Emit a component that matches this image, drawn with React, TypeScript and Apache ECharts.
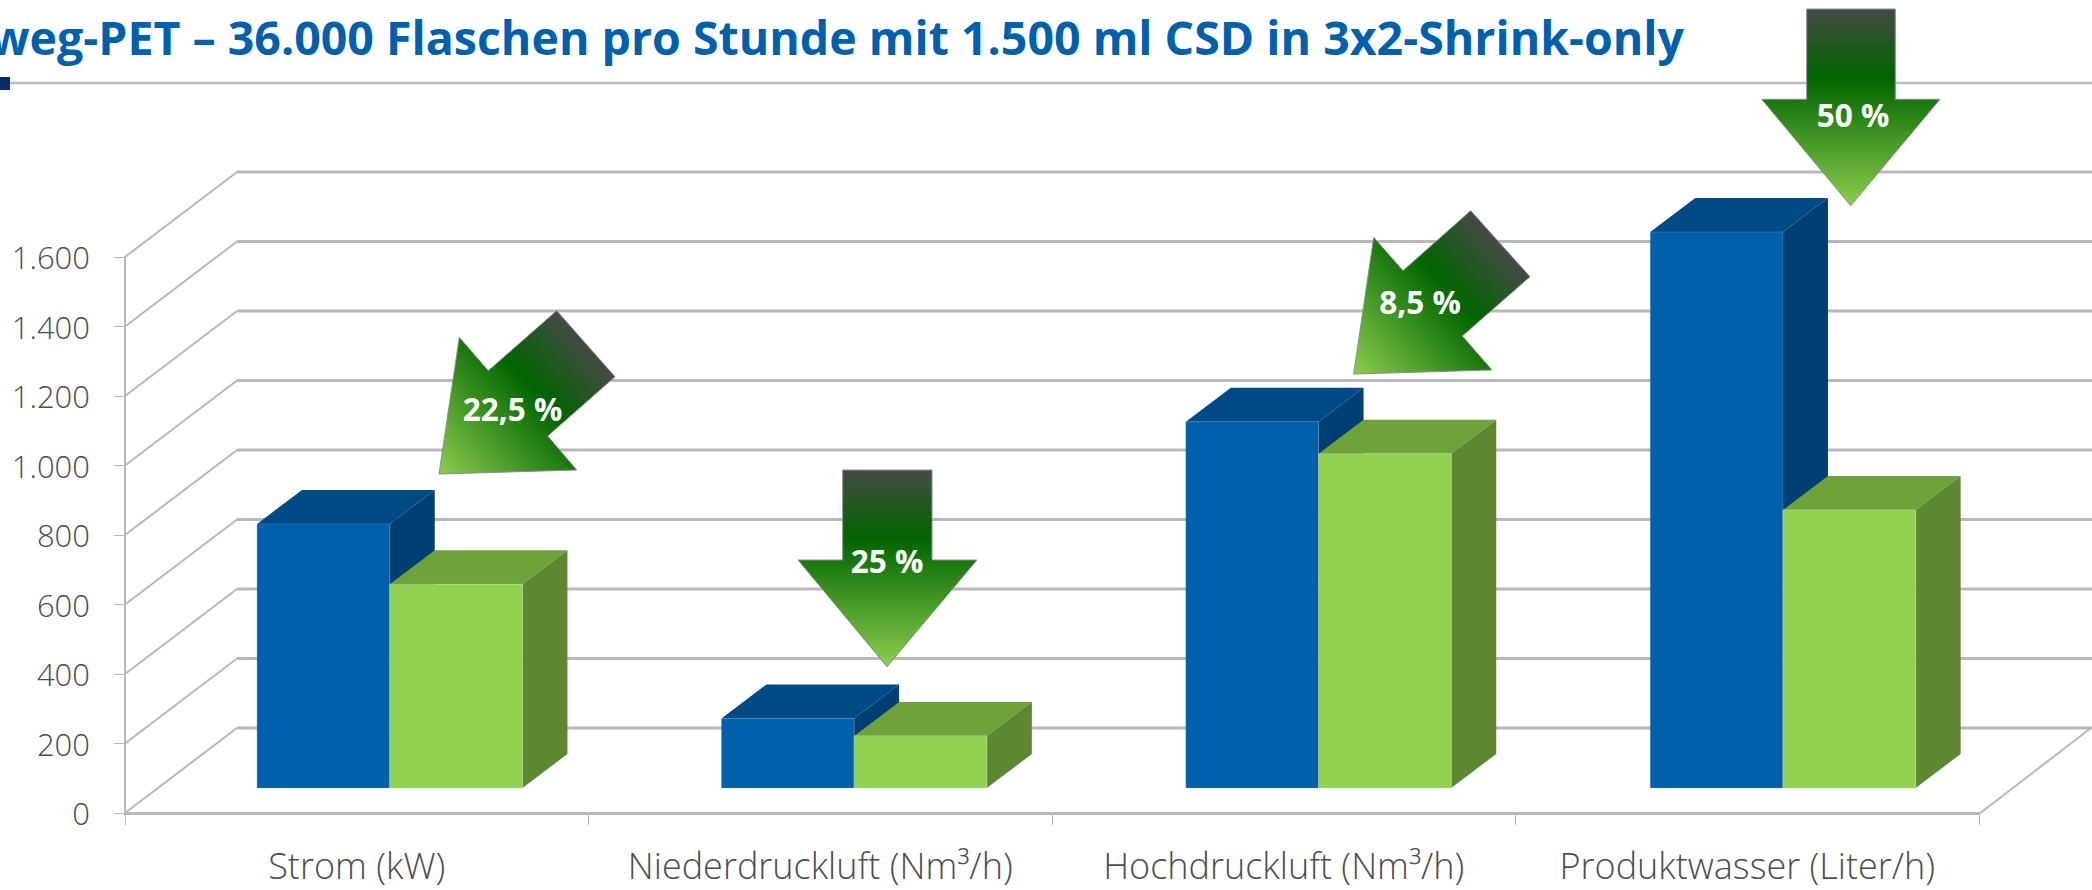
import React, { useEffect, useRef } from "react";
import * as echarts from "echarts";

const categories = ["Strom (kW)", "Niederdruckluft (Nm³/h)", "Hochdruckluft (Nm³/h)", "Produktwasser (Liter/h)"];
const blueValues = [760, 200, 1054, 1600];
const greenValues = [586, 150, 962, 800];
const yTicks = [0, 200, 400, 600, 800, 1000, 1200, 1400, 1600];
const titleText = "Einweg-PET – 36.000 Flaschen pro Stunde mit 1.500 ml CSD in 3x2-Shrink-only";
const savingLabels = ["22,5 %", "25 %", "8,5 %", "50 %"];

const W = 2092;
const H = 890;
const GRID = { left: 125, right: 113, top: 257, bottom: 77 };
const WALL_DX = 112;
const WALL_DY = 85;
const BAR_DX = 33; // front face offset from the axis plane
const BAR_DY = 25;
const BAR_STEP = 0.9; // the 3D projection spreads groups slightly wider than the axis bands
const DEPTH_DX = 45;
const DEPTH_DY = 34;
const BAR_RATIO = 132.7 / 463.5;

const FONT = "'Open Sans', sans-serif";
const AXIS = "#b8b8b8";

const blueFaces = { front: "#0060ac", top: "#004a87", side: "#003f73", edge: "rgba(120,150,180,0.35)" };
const greenFaces = { front: "#90d150", top: "#6fa23b", side: "#5d8733", edge: "rgba(190,215,170,0.6)" };

function barItem(faces: any, side: number) {
  return (params: any, api: any) => {
    const i = api.value(0);
    const v = api.value(1);
    const base = api.coord([i, 0]);
    const top = api.coord([i, v]);
    const bw = api.size([1, 0])[0] * BAR_RATIO;
    const x0 = base[0] + BAR_DX + i * BAR_STEP + (side === 0 ? -bw : 0);
    const x1 = x0 + bw;
    const yb = base[1] - BAR_DY;
    const yt = top[1] - BAR_DY;
    return {
      type: "group",
      children: [
        {
          type: "polygon",
          shape: { points: [[x0, yt], [x1, yt], [x1 + DEPTH_DX, yt - DEPTH_DY], [x0 + DEPTH_DX, yt - DEPTH_DY]] },
          style: { fill: faces.top },
        },
        {
          type: "polygon",
          shape: { points: [[x1, yt], [x1 + DEPTH_DX, yt - DEPTH_DY], [x1 + DEPTH_DX, yb - DEPTH_DY], [x1, yb]] },
          style: { fill: faces.side },
        },
        {
          type: "rect",
          shape: { x: x0, y: yt, width: bw, height: yb - yt },
          style: { fill: faces.front, stroke: faces.edge, lineWidth: 1 },
        },
      ],
    };
  };
}

function wallItem(params: any, api: any) {
  const cs = params.coordSys;
  const y = api.coord([0, api.value(1)])[1];
  const xl = cs.x;
  const xr = cs.x + cs.width;
  const children: any[] = [
    {
      type: "line",
      shape: { x1: xl, y1: y, x2: xl + WALL_DX, y2: y - WALL_DY },
      style: { stroke: AXIS, lineWidth: 2 },
    },
    {
      type: "line",
      shape: { x1: xl + WALL_DX, y1: y - WALL_DY, x2: W, y2: y - WALL_DY },
      style: { stroke: AXIS, lineWidth: 3 },
    },
  ];
  if (api.value(1) === 0) {
    children.push({
      type: "line",
      shape: { x1: xr, y1: y + 1, x2: xr + WALL_DX, y2: y - WALL_DY },
      style: { stroke: AXIS, lineWidth: 2 },
    });
  }
  return { type: "group", children };
}

function arrowGraphic(points: number[][], from: number[], to: number[], label: string, lx: number, ly: number) {
  return [
    {
      type: "polygon",
      z: 20,
      silent: true,
      shape: { points },
      style: {
        fill: new echarts.graphic.LinearGradient(
          from[0],
          from[1],
          to[0],
          to[1],
          [
            { offset: 0, color: "#444a44" },
            { offset: 0.35, color: "#006400" },
            { offset: 1, color: "#8ccd4e" },
          ],
          true
        ),
        stroke: "#8c8c8c",
        lineWidth: 1,
      },
    },
    {
      type: "text",
      z: 21,
      silent: true,
      x: lx,
      y: ly,
      style: {
        text: label,
        fill: "#ffffff",
        font: `bold 31.5px ${FONT}`,
        align: "center",
        verticalAlign: "middle",
      },
    },
  ];
}

export default function App() {
  const ref = useRef<HTMLDivElement>(null);
  useEffect(() => {
    document.body.style.margin = "0";
    const chart = echarts.init(ref.current!, null, { renderer: "svg" });
    chart.setOption({
      animation: false,
      backgroundColor: "#ffffff",
      title: {
        text: titleText,
        right: 408,
        top: 13,
        padding: 0,
        textStyle: { fontFamily: FONT, fontWeight: "bold", fontSize: 46.5, color: "#0060ac" },
      },
      grid: GRID,
      xAxis: {
        type: "category",
        data: categories,
        axisLine: { show: true, lineStyle: { color: AXIS, width: 3 } },
        axisTick: { show: true, interval: 0, length: 12, lineStyle: { color: AXIS, width: 1 } },
        axisLabel: { interval: 0, hideOverlap: false, fontFamily: FONT, fontWeight: 300, fontSize: 36, color: "#4d4d4d", margin: 34 },
      },
      yAxis: {
        type: "value",
        min: 0,
        max: 1600,
        interval: 200,
        axisLine: { show: true, lineStyle: { color: AXIS, width: 2 } },
        axisTick: { show: true, length: 11, lineStyle: { color: AXIS, width: 1 } },
        splitLine: { show: false },
        axisLabel: {
          fontFamily: FONT,
          fontWeight: 300,
          fontSize: 31,
          color: "#4d4d4d",
          margin: 35,
          formatter: (v: number) => v.toLocaleString("de-DE"),
        },
      },
      series: [
        {
          type: "custom",
          name: "Gitter",
          silent: true,
          z: 1,
          clip: false,
          data: yTicks.map((t) => [0, t]),
          encode: { x: 0, y: 1 },
          renderItem: wallItem,
        },
        {
          type: "custom",
          name: "Wettbewerb",
          silent: true,
          z: 3,
          clip: false,
          data: blueValues.map((v, i) => [i, v]),
          encode: { x: 0, y: 1 },
          renderItem: barItem(blueFaces, 0),
        },
        {
          type: "custom",
          name: "Einsparung",
          silent: true,
          z: 4,
          clip: false,
          data: greenValues.map((v, i) => [i, v]),
          encode: { x: 0, y: 1 },
          renderItem: barItem(greenFaces, 1),
        },
      ],
      graphic: {
        elements: [
          {
            type: "line",
            z: 5,
            silent: true,
            shape: { x1: 0, y1: 83, x2: W, y2: 83 },
            style: { stroke: "#b8bcbf", lineWidth: 2.5 },
          },
          {
            type: "rect",
            z: 6,
            silent: true,
            shape: { x: 0, y: 77, width: 10, height: 13 },
            style: { fill: "#0b2b6b" },
          },
          ...arrowGraphic(
            [[556.7, 310.7], [615, 376.7], [547.7, 436], [576.7, 470], [439, 474], [459.3, 337.3], [488.3, 370.7]],
            [586, 344],
            [439, 474],
            savingLabels[0],
            512.5,
            408
          ),
          ...arrowGraphic(
            [[842.7, 470], [932, 470], [932, 560], [977, 560], [887, 666.7], [798, 560], [842.7, 560]],
            [887, 470],
            [887, 666.7],
            savingLabels[1],
            887,
            560
          ),
          ...arrowGraphic(
            [[1470.7, 210.7], [1530, 276.7], [1462.3, 336], [1492, 370], [1353.7, 374], [1373.7, 237.3], [1403, 270.7]],
            [1500, 244],
            [1353.7, 374],
            savingLabels[2],
            1420,
            301
          ),
          ...arrowGraphic(
            [[1806.7, 9], [1895.3, 9], [1895.3, 99.3], [1940, 99.3], [1850.7, 205.7], [1761.7, 99.3], [1806.7, 99.3]],
            [1851, 9],
            [1851, 205.7],
            savingLabels[3],
            1853,
            114
          ),
        ],
      },
    });
    return () => chart.dispose();
  }, []);
  return <div ref={ref} style={{ position: "absolute", left: 0, top: 0, width: W, height: H }} />;
}
